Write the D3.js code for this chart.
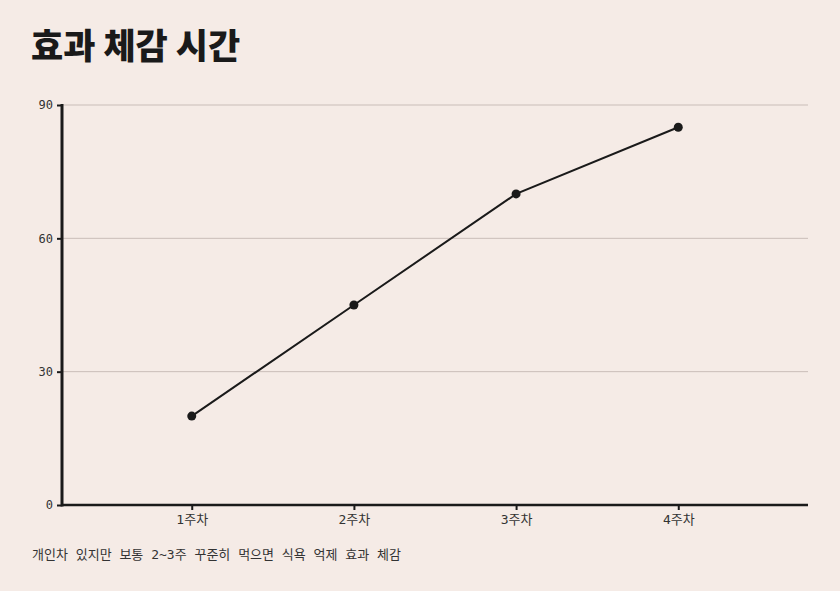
<!DOCTYPE html>
<html>
<head>
<meta charset="utf-8">
<script src="https://cdn.jsdelivr.net/npm/d3@7"></script>
<style>
  body { margin: 0; background: #f5ebe6; }
  svg { display: block; }
  .axis text { font-family: "DejaVu Sans Mono", "Noto Sans CJK KR", monospace; }
</style>
</head>
<body>
<svg id="chart" width="840" height="591"></svg>
<script>
// data
const weeks = ["1주차", "2주차", "3주차", "4주차"];
const feelValues = [20, 45, 70, 85];
const yTicks = [0, 30, 60, 90];
const titleText = "효과 체감 시간";
const noteText = "개인차 있지만 보통 2~3주 꾸준히 먹으면 식욕 억제 효과 체감";

/* Draw the single line chart: title, grid, axes, line with dots, and the note under it. */
function drawChart() {
    const width = 840;
    const height = 591;
    const margin = { top: 105, right: 32, bottom: 86, left: 62 };

    const svg = d3.select("#chart");

    svg.append("rect")
        .attr("width", width)
        .attr("height", height)
        .style("fill", "#f5ebe6");

    svg.append("text")
        .attr("x", 31)
        .attr("y", 59)
        .text(titleText)
        .style("font-family", "'Noto Sans CJK KR', sans-serif")
        .style("font-weight", 900)
        .style("font-size", "35px")
        .style("fill", "#1a1a1a");

    const xScale = d3.scalePoint()
        .domain(weeks)
        .range([margin.left, width - margin.right])
        .padding(0.8);

    const yScale = d3.scaleLinear()
        .domain([0, 90])
        .range([height - margin.bottom, margin.top]);

    // grid lines
    svg.append("g")
        .selectAll("line")
        .data(yTicks.filter(t => t > 0))
        .enter().append("line")
        .attr("x1", margin.left)
        .attr("x2", width - margin.right)
        .attr("y1", d => yScale(d))
        .attr("y2", d => yScale(d))
        .style("stroke", "#c9bdb8")
        .style("stroke-width", 1);

    const yAxis = svg.append("g")
        .attr("class", "axis")
        .attr("transform", `translate(${margin.left},0)`)
        .call(d3.axisLeft(yScale).tickValues(yTicks).tickSize(5).tickPadding(4));
    yAxis.select(".domain").remove();
    yAxis.selectAll(".tick line").style("stroke", "#1a1a1a").style("stroke-width", 2);
    yAxis.selectAll("text").style("font-size", "12px").style("fill", "#333");

    const xAxis = svg.append("g")
        .attr("class", "axis")
        .attr("transform", `translate(0,${height - margin.bottom})`)
        .call(d3.axisBottom(xScale).tickSize(5).tickPadding(5));
    xAxis.select(".domain").remove();
    xAxis.selectAll(".tick line").style("stroke", "#1a1a1a").style("stroke-width", 2);
    xAxis.selectAll("text").style("font-size", "13px").style("fill", "#333");

    // axis lines
    svg.append("line")
        .attr("x1", margin.left)
        .attr("x2", margin.left)
        .attr("y1", margin.top - 1)
        .attr("y2", height - margin.bottom + 1.5)
        .style("stroke", "#1a1a1a")
        .style("stroke-width", 3);

    svg.append("line")
        .attr("x1", margin.left)
        .attr("x2", width - margin.right)
        .attr("y1", height - margin.bottom)
        .attr("y2", height - margin.bottom)
        .style("stroke", "#1a1a1a")
        .style("stroke-width", 2.5);

    const points = weeks.map((w, i) => ({ week: w, value: feelValues[i] }));

    const line = d3.line()
        .x(d => xScale(d.week))
        .y(d => yScale(d.value));

    svg.append("path")
        .datum(points)
        .attr("d", line)
        .style("fill", "none")
        .style("stroke", "#1a1a1a")
        .style("stroke-width", 2);

    svg.selectAll(".dot")
        .data(points)
        .enter().append("circle")
        .attr("class", "dot")
        .attr("cx", d => xScale(d.week))
        .attr("cy", d => yScale(d.value))
        .attr("r", 4.5)
        .style("fill", "#1a1a1a");

    svg.append("text")
        .attr("x", 32)
        .attr("y", 559)
        .text(noteText)
        .style("font-family", "'DejaVu Sans Mono', 'Noto Sans CJK KR', monospace")
        .style("font-size", "13px")
        .style("fill", "#333");
}

drawChart();
</script>
</body>
</html>
